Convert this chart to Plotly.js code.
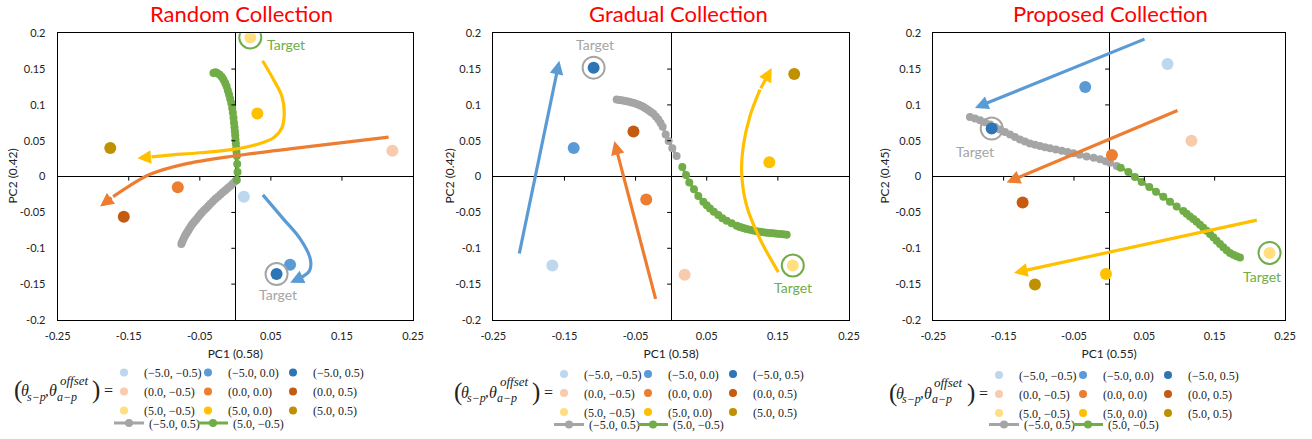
<!DOCTYPE html>
<html><head><meta charset="utf-8">
<script src="https://cdn.plot.ly/plotly-3.0.1.min.js"></script>
<style>html,body{margin:0;padding:0;background:#fff}#chart{width:1312px;height:439px}</style>
</head><body><div id="chart"></div>
<script>
// ---------- DATA ----------
const panelTitles = ['Random Collection', 'Gradual Collection', 'Proposed Collection'];
const xTitles = ['PC1 (0.58)', 'PC1 (0.58)', 'PC1 (0.55)'];
const yTitles = ['PC2 (0.42)', 'PC2 (0.42)', 'PC2 (0.45)'];
const categories = ['(−5.0, −0.5)', '(−5.0, 0.0)', '(−5.0, 0.5)',
                    '(0.0, −0.5)', '(0.0, 0.0)', '(0.0, 0.5)',
                    '(5.0, −0.5)', '(5.0, 0.0)', '(5.0, 0.5)'];
const lineNames = ['(−5.0, 0.5)', '(5.0, −0.5)'];
const xTickVals = [-0.25, -0.15, -0.05, 0.05, 0.15, 0.25];
const xTickText = ['-0.25', '-0.15', '-0.05', '0.05', '0.15', '0.25'];
const yTickVals = [0.2, 0.15, 0.1, 0.05, 0, -0.05, -0.1, -0.15, -0.2];
const yTickText = ['0.2', '0.15', '0.1', '0.05', '0', '-0.05', '-0.1', '-0.15', '-0.2'];

// points (one per category)
const randomX   = [0.012, 0.077, 0.058, 0.221, -0.081, -0.157, 0.021, 0.031, -0.176];
const randomY   = [-0.028, -0.123, -0.136, 0.036, -0.015, -0.056, 0.194, 0.088, 0.040];
const gradualX  = [-0.167, -0.137, -0.109, 0.019, -0.035, -0.053, 0.171, 0.138, 0.173];
const gradualY  = [-0.124, 0.040, 0.152, -0.137, -0.032, 0.063, -0.124, 0.020, 0.143];
const proposedX = [0.083, -0.034, -0.167, 0.117, 0.004, -0.123, 0.228, -0.0045, -0.1055];
const proposedY = [0.157, 0.125, 0.067, 0.050, 0.030, -0.036, -0.1065, -0.136, -0.1505];

// trajectories: gray = (−5.0, 0.5), green = (5.0, −0.5)
const randomGrayX = [0.0002, -0.0035, -0.007, -0.0105, -0.014, -0.0175, -0.021, -0.0245, -0.028, -0.0315, -0.035, -0.038, -0.041, -0.044, -0.047, -0.0495, -0.052, -0.0545, -0.057, -0.059, -0.061, -0.063, -0.065, -0.0665, -0.068, -0.0695, -0.071, -0.0725, -0.074, -0.075, -0.076];
const randomGrayY = [-0.006, -0.0095, -0.013, -0.016, -0.019, -0.022, -0.025, -0.028, -0.031, -0.0345, -0.038, -0.041, -0.044, -0.047, -0.050, -0.053, -0.056, -0.059, -0.062, -0.0645, -0.067, -0.070, -0.073, -0.0755, -0.078, -0.0805, -0.083, -0.086, -0.089, -0.0915, -0.094];
const randomGreenX = [0.0021, 0.0031, 0.0026, 0.0021, 0.0016, 0.0012, 0.0007, 0.0002, -0.0002, -0.0007, -0.0012, -0.0019, -0.0026, -0.0035, -0.0045, -0.0058, -0.0073, -0.0089, -0.0106, -0.0124, -0.0143, -0.0166, -0.019, -0.022, -0.0251, -0.028, -0.0308];
const randomGreenY = [-0.0046, 0.0065, 0.0176, 0.0287, 0.0345, 0.0403, 0.046, 0.0519, 0.0576, 0.0634, 0.069, 0.075, 0.082, 0.0889, 0.0958, 0.1028, 0.1085, 0.1144, 0.1200, 0.1259, 0.1305, 0.1352, 0.1390, 0.1421, 0.1440, 0.1454, 0.1444];
const gradualGrayX = [-0.0766, -0.0731, -0.0696, -0.0661, -0.0626, -0.059, -0.0555, -0.052, -0.0485, -0.0455, -0.0425, -0.0396, -0.0368, -0.034, -0.031, -0.028, -0.0251, -0.0215, -0.018, -0.0149, -0.0119, -0.0077, -0.0035, 0.0016, 0.0077];
const gradualGrayY = [0.1074, 0.107, 0.1065, 0.1058, 0.1051, 0.1043, 0.1035, 0.1025, 0.1014, 0.1001, 0.0988, 0.0974, 0.0958, 0.094, 0.092, 0.0898, 0.0875, 0.0838, 0.0796, 0.0748, 0.0694, 0.0588, 0.0495, 0.0394, 0.0287];
const gradualGreenX = [0.0157, 0.0209, 0.0255, 0.0321, 0.0382, 0.0452, 0.05, 0.0546, 0.06, 0.0663, 0.072, 0.078, 0.085, 0.0921, 0.0956, 0.099, 0.1026, 0.1061, 0.1108, 0.1155, 0.1202, 0.1249, 0.1296, 0.1342, 0.1389, 0.1436, 0.1483, 0.153, 0.1577, 0.1624];
const gradualGreenY = [0.0134, 0.0023, -0.0083, -0.0176, -0.0269, -0.0352, -0.04, -0.0444, -0.049, -0.0537, -0.058, -0.0616, -0.0652, -0.0685, -0.0698, -0.071, -0.0721, -0.0731, -0.0742, -0.0752, -0.0761, -0.0769, -0.0776, -0.0782, -0.0787, -0.0792, -0.0797, -0.0802, -0.0806, -0.081];
const proposedGrayX = [-0.1979, -0.1908, -0.1836, -0.1765, -0.1694, -0.1623, -0.1552, -0.1481, -0.141, -0.1339, -0.1268, -0.1197, -0.1126, -0.1055, -0.0983, -0.0912, -0.0841, -0.0758, -0.0675, -0.0592, -0.0509, -0.042, -0.032, -0.022, -0.013, -0.005, 0.0012, 0.0107];
const proposedGrayY = [0.0833, 0.081, 0.0787, 0.0757, 0.0727, 0.0692, 0.0657, 0.0622, 0.0588, 0.0553, 0.0519, 0.0491, 0.0463, 0.0444, 0.0426, 0.041, 0.0394, 0.0377, 0.0361, 0.0343, 0.0324, 0.0303, 0.0282, 0.0262, 0.0241, 0.0215, 0.0194, 0.0148];
const proposedGreenX = [0.0164, 0.0273, 0.0367, 0.0462, 0.0571, 0.0666, 0.077, 0.0865, 0.096, 0.1055, 0.1102, 0.1149, 0.1197, 0.1244, 0.1292, 0.1339, 0.1386, 0.1434, 0.1481, 0.1528, 0.1576, 0.1623, 0.167, 0.1718, 0.1766, 0.1813, 0.186];
const proposedGreenY = [0.0125, 0.0065, -0.0005, -0.0074, -0.0144, -0.0213, -0.0282, -0.0352, -0.0417, -0.0481, -0.0518, -0.0556, -0.0593, -0.063, -0.0671, -0.0713, -0.0757, -0.0801, -0.0847, -0.0894, -0.094, -0.0986, -0.1026, -0.1065, -0.1090, -0.1111, -0.113];

// arrows (last point = tip)
const randomArrowBlueX   = [0.0387, 0.0678, 0.0913, 0.1054, 0.1045, 0.0937, 0.0772];
const randomArrowBlueY   = [-0.0255, -0.0593, -0.087, -0.1148, -0.131, -0.1403, -0.1481];
const randomArrowOrangeX = [0.2157, 0.0913, -0.0026, -0.073, -0.12, -0.1528, -0.172, -0.1904];
const randomArrowOrangeY = [0.0551, 0.0403, 0.0287, 0.0171, 0.0032, -0.0153, -0.028, -0.0417];
const randomArrowYellowX = [0.0383, 0.0538, 0.0655, 0.0688, 0.0655, 0.0538, 0.0303, -0.0026, -0.0495, -0.0965, -0.118, -0.1378];
const randomArrowYellowY = [0.1616, 0.1352, 0.112, 0.0889, 0.068, 0.0542, 0.0449, 0.038, 0.0333, 0.0296, 0.0275, 0.0255];
const gradualArrowBlueX   = [-0.2139, -0.1572];
const gradualArrowBlueY   = [-0.1093, 0.1616];
const gradualArrowOrangeX = [-0.0213, -0.0799];
const gradualArrowOrangeY = [-0.1727, 0.0495];
const gradualArrowYellowX = [0.1507, 0.1249, 0.1061, 0.0991, 0.1014, 0.1108, 0.1249, 0.1413];
const gradualArrowYellowY = [-0.1333, -0.087, -0.0407, 0.0056, 0.0426, 0.0843, 0.1213, 0.1514];
const proposedArrowBlueX   = [0.0524, -0.1908];
const proposedArrowBlueY   = [0.1926, 0.0958];
const proposedArrowOrangeX = [0.0993, -0.1457];
const proposedArrowOrangeY = [0.0931, -0.0083];
const proposedArrowYellowX = [0.2121, -0.1353];
const proposedArrowYellowY = [-0.0602, -0.1343];

// target labels: index of gray-target category and green-target category
const targetGrayIndex = 2, targetGreenIndex = 6;

// ---------- STYLE ----------
const W = 1312, H = 439;
const pointColors = ['#BDD7EE', '#5B9BD5', '#2E75B6', '#F8CBAD', '#ED7D31', '#C55A11', '#FFDF80', '#FFC000', '#BF9000'];
const grayC = '#A5A5A5', greenC = '#70AD47';
const arrowColors = {blue: '#5B9BD5', orange: '#ED7D31', yellow: '#FFC000'};
const xDomains = [[57.7, 413], [493.3, 849], [933.3, 1285]];
const yDomainPx = [33.3, 320.7];
const fontSans = 'Lato, "Open Sans", sans-serif';
const fontSerif = '"Liberation Serif", "DejaVu Serif", serif';

const panels = [
  {px: randomX, py: randomY, gx: randomGrayX, gy: randomGrayY, ggx: randomGreenX, ggy: randomGreenY,
   arrows: [[randomArrowYellowX, randomArrowYellowY, 'yellow'], [randomArrowOrangeX, randomArrowOrangeY, 'orange'], [randomArrowBlueX, randomArrowBlueY, 'blue']],
   grayTxt: [1, -20], greenTxt: [36, -7], titleX: 241.7, yTitleX: 13, legendOff: 0, legendDy: 0},
  {px: gradualX, py: gradualY, gx: gradualGrayX, gy: gradualGrayY, ggx: gradualGreenX, ggy: gradualGreenY,
   arrows: [[gradualArrowBlueX, gradualArrowBlueY, 'blue'], [gradualArrowOrangeX, gradualArrowOrangeY, 'orange'], [gradualArrowYellowX, gradualArrowYellowY, 'yellow']],
   grayTxt: [1, 23], greenTxt: [0, -22], titleX: 678, yTitleX: 450, legendOff: 440, legendDy: 1.5},
  {px: proposedX, py: proposedY, gx: proposedGrayX, gy: proposedGrayY, ggx: proposedGreenX, ggy: proposedGreenY,
   arrows: [[proposedArrowBlueX, proposedArrowBlueY, 'blue'], [proposedArrowOrangeX, proposedArrowOrangeY, 'orange'], [proposedArrowYellowX, proposedArrowYellowY, 'yellow']],
   grayTxt: [-17, -23], greenTxt: [-8, -24], titleX: 1110, yTitleX: 885, legendOff: 875, legendDy: 2.5}
];

const fx = v => v / W, fy = v => 1 - v / H;
const legendColX = [129, 213, 298];   // symbol centres (panel 1)
const legendMidY = 391.5, legendLineY = 423;
const symbolCentre = 20;              // plotly legend: symbol centre at x+20, text at x+40
const markerColShift = 5;             // compromise between symbol and text position

const traces = [], annotations = [], shapes = [];
const layout = {
  width: W, height: H, margin: {l: 0, r: 0, t: 0, b: 0},
  paper_bgcolor: '#fff', plot_bgcolor: '#fff', showlegend: true, hovermode: false,
  font: {family: fontSans, color: '#222'}
};

// 5 legends per panel: 3 columns of category markers, 2 line entries
function legendName(p, r) { const k = p * 5 + r + 1; return k === 1 ? 'legend' : 'legend' + k; }

panels.forEach((P, p) => {
  const s = p === 0 ? '' : String(p + 1);
  const xa = 'x' + s, ya = 'y' + s;
  layout['xaxis' + s] = {
    domain: [fx(xDomains[p][0]), fx(xDomains[p][1])], anchor: ya, range: [-0.25, 0.25],
    tickmode: 'array', tickvals: xTickVals, ticktext: xTickText, ticks: '', ticklabelstandoff: 6,
    showgrid: false, showline: true, mirror: true, linecolor: '#000', linewidth: 1,
    zeroline: true, zerolinecolor: '#000', zerolinewidth: 1, fixedrange: true,
    tickfont: {family: fontSans, size: 11, color: '#222'},
    title: {text: xTitles[p], font: {family: fontSans, size: 12, color: '#222'}, standoff: 8}
  };
  layout['yaxis' + s] = {
    domain: [fy(yDomainPx[1]), fy(yDomainPx[0])], anchor: xa, range: [-0.2, 0.2],
    tickmode: 'array', tickvals: yTickVals, ticktext: yTickText, ticks: '', ticklabelstandoff: 9,
    showgrid: false, showline: true, mirror: true, linecolor: '#000', linewidth: 1,
    zeroline: true, zerolinecolor: '#000', zerolinewidth: 1, fixedrange: true,
    tickfont: {family: fontSans, size: 11, color: '#222'}
  };
  // y-axis title (placed as rotated text)
  annotations.push({xref: 'paper', yref: 'paper', x: fx(P.yTitleX), y: fy(177), xanchor: 'center', yanchor: 'middle', showarrow: false,
    textangle: -90, text: yTitles[p], font: {family: fontSans, size: 12, color: '#222'}});
  // tick marks on the zero lines
  xTickVals.forEach(v => { if (Math.abs(v) < 0.2) shapes.push({type: 'line', xref: xa, yref: ya, ysizemode: 'pixel', yanchor: 0, x0: v, x1: v, y0: 0, y1: -4, line: {color: '#000', width: 1}}); });
  yTickVals.forEach(v => { if (Math.abs(v) < 0.19 && v !== 0) shapes.push({type: 'line', xref: xa, yref: ya, xsizemode: 'pixel', xanchor: 0, y0: v, y1: v, x0: -4, x1: 0, line: {color: '#000', width: 1}}); });

  // trajectories
  traces.push({type: 'scatter', mode: 'lines+markers', x: P.gx, y: P.gy, xaxis: xa, yaxis: ya, name: lineNames[0],
    line: {color: grayC, width: 3}, marker: {color: grayC, size: 8}, legend: legendName(p, 3)});
  traces.push({type: 'scatter', mode: 'lines+markers', x: P.ggx, y: P.ggy, xaxis: xa, yaxis: ya, name: lineNames[1],
    line: {color: greenC, width: 3}, marker: {color: greenC, size: 8}, legend: legendName(p, 4)});
  // points
  categories.forEach((c, i) => {
    traces.push({type: 'scatter', mode: 'markers', x: [P.px[i]], y: [P.py[i]], xaxis: xa, yaxis: ya, name: c,
      marker: {color: pointColors[i], size: 12}, showlegend: false, legendgroup: 'g' + p + '_' + i});
  });
  // legend proxies (small legend markers), grouped in columns
  [0, 1, 2].forEach(col => [0, 1, 2].forEach(row => {
    const i = row * 3 + col;
    traces.push({type: 'scatter', mode: 'markers', x: [null], y: [null], xaxis: xa, yaxis: ya, name: categories[i],
      marker: {color: pointColors[i], size: 8}, legend: legendName(p, col), legendgroup: 'g' + p + '_' + i});
  }));
  // targets
  traces.push({type: 'scatter', mode: 'markers', x: [P.px[targetGrayIndex]], y: [P.py[targetGrayIndex]], xaxis: xa, yaxis: ya, showlegend: false,
    marker: {symbol: 'circle-open', size: 22, color: grayC, line: {width: 2, color: grayC}}});
  traces.push({type: 'scatter', mode: 'markers', x: [P.px[targetGreenIndex]], y: [P.py[targetGreenIndex]], xaxis: xa, yaxis: ya, showlegend: false,
    marker: {symbol: 'circle-open', size: 22, color: greenC, line: {width: 2, color: greenC}}});
  annotations.push({xref: xa, yref: ya, x: P.px[targetGrayIndex], y: P.py[targetGrayIndex], text: 'Target', showarrow: false,
    xshift: P.grayTxt[0], yshift: P.grayTxt[1], font: {family: fontSans, size: 14, color: grayC}});
  annotations.push({xref: xa, yref: ya, x: P.px[targetGreenIndex], y: P.py[targetGreenIndex], text: 'Target', showarrow: false,
    xshift: P.greenTxt[0], yshift: P.greenTxt[1], font: {family: fontSans, size: 14, color: greenC}});
  // arrows
  P.arrows.forEach(([ax, ay, cname]) => {
    const n = ax.length, col = arrowColors[cname];
    if (n > 2) {
      traces.push({type: 'scatter', mode: 'lines', x: ax.slice(0, n - 1), y: ay.slice(0, n - 1), xaxis: xa, yaxis: ya, showlegend: false,
        line: {color: col, width: 3.2, shape: 'spline', smoothing: 1}});
    }
    annotations.push({xref: xa, yref: ya, axref: xa, ayref: ya, x: ax[n - 1], y: ay[n - 1], ax: ax[n - 2], ay: ay[n - 2],
      text: '', showarrow: true, arrowhead: 2, arrowsize: 0.85, arrowwidth: 3.2, arrowcolor: col, standoff: 0, startstandoff: 0});
  });
  // panel title
  annotations.push({xref: 'paper', yref: 'paper', x: fx(P.titleX), y: fy(14), xanchor: 'center', yanchor: 'middle', showarrow: false,
    text: panelTitles[p], font: {family: fontSans, size: 22, color: '#FF0000'}});
  // legends
  const legBase = {bgcolor: 'rgba(0,0,0,0)', borderwidth: 0, font: {family: fontSerif, size: 12, color: '#222'},
    itemclick: false, itemdoubleclick: false, tracegroupgap: 0, xanchor: 'left', yanchor: 'middle', orientation: 'v'};
  for (let c = 0; c < 3; c++) {
    layout[legendName(p, c)] = Object.assign({}, legBase, {
      x: fx(legendColX[c] - symbolCentre - markerColShift + P.legendOff), y: fy(legendMidY + P.legendDy)});
  }
  for (let l = 0; l < 2; l++) {
    layout[legendName(p, 3 + l)] = Object.assign({}, legBase, {
      x: fx(legendColX[l] - symbolCentre + P.legendOff), y: fy(legendLineY + P.legendDy)});
  }
  // math label (θ_{s−p}, θ_{a−p}^{offset}) =
  const o = P.legendOff, my = 391.5 + P.legendDy;
  const mathPieces = [
    ['(', 18, my - 0.5, 25, ''], ['θ', 25, my, 16, 'i'], ['s−p', 36.7, my + 6, 12, 'i'], [',', 47, my, 15, ''],
    ['θ', 53.3, my, 16, 'i'], ['offset', 74, my - 10.5, 13, 'i'], ['a−p', 67, my + 6, 12, 'i'], [')', 96, my - 0.5, 25, ''], ['=', 108.3, my, 16, '']
  ];
  mathPieces.forEach(([t, xp, yp, sz, st]) => {
    annotations.push({xref: 'paper', yref: 'paper', x: fx(xp + o), y: fy(yp), xanchor: 'center', yanchor: 'middle', showarrow: false,
      text: st === 'i' ? '<i>' + t + '</i>' : t, font: {family: fontSerif, size: sz, color: '#222'}});
  });
});
layout.annotations = annotations;
layout.shapes = shapes;
Plotly.newPlot('chart', traces, layout, {staticPlot: true, displayModeBar: false});
</script>
</body></html>
